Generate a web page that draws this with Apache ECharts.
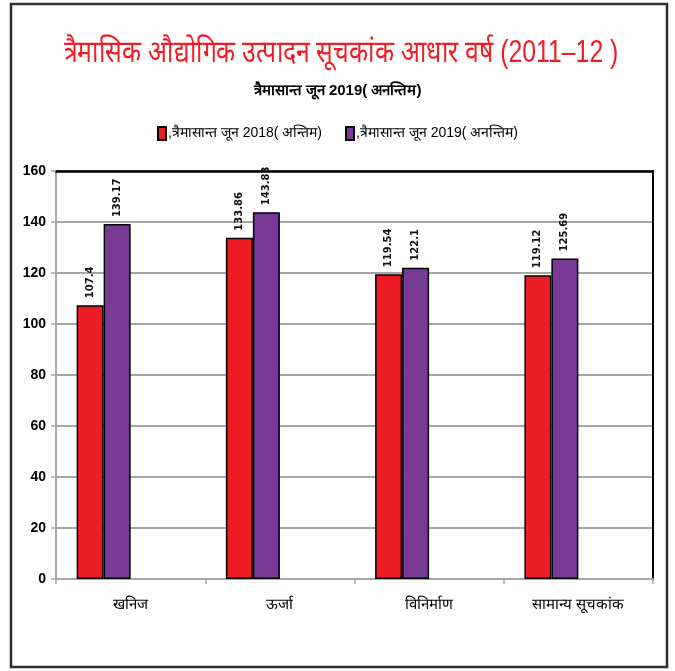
<!DOCTYPE html>
<html><head><meta charset="utf-8">
<script src="https://cdn.jsdelivr.net/npm/echarts@6/dist/echarts.min.js"></script>
<style>html,body{margin:0;padding:0;background:#fff}#c{width:675px;height:671px}</style>
</head><body><div id="c"></div>
<script>
const titleText = 'त्रैमासिक औद्योगिक उत्पादन सूचकांक आधार वर्ष (2011–12 )';
const subtitleText = 'त्रैमासान्त जून 2019( अनन्तिम)';
const categories = ['खनिज', 'ऊर्जा', 'विनिर्माण', 'सामान्य सूचकांक'];
const seriesNames = [',त्रैमासान्त जून 2018( अन्तिम)', ',त्रैमासान्त जून 2019( अनन्तिम)'];
const values2018 = [107.4, 133.86, 119.54, 119.12];
const values2019 = [139.17, 143.83, 122.1, 125.69];
const yTicks = [0, 20, 40, 60, 80, 100, 120, 140, 160];

const narrow = "'Liberation Sans Narrow', 'Arial Narrow', 'Liberation Sans', sans-serif";
const chart = echarts.init(document.getElementById('c'));
const labelCfg = {
  show: true, position: 'top', rotate: 90, align: 'left', verticalAlign: 'middle',
  distance: 7, fontSize: 10, fontWeight: 'bold', color: '#111',
  fontFamily: "'DejaVu Sans', Verdana, sans-serif"
};
chart.setOption({
  animation: false,
  title: [
    { text: subtitleText, left: 'center', top: 78,
      textStyle: { color: '#000', fontSize: 15, fontWeight: 'bold', fontFamily: narrow } }
  ],
  legend: {
    top: 121, left: 'center', itemGap: 23,
    data: seriesNames, icon: 'rect', itemWidth: 8, itemHeight: 13,
    textStyle: { color: '#000', fontSize: 14, fontFamily: narrow, padding: [0,0,0,-3] }
  },
  graphic: [{
    type: 'text', x: 341, y: 53, scaleX: 0.8, scaleY: 1,
    style: { text: titleText, x: 0, y: 0, align: 'center', verticalAlign: 'middle',
      fill: '#EE1C25', fontSize: 31, fontFamily: "'Liberation Sans', sans-serif" }
  }, {
    type: 'rect', shape: { x: 11, y: 4, width: 656, height: 663 },
    style: { fill: 'none', stroke: '#2f2f2f', lineWidth: 2.5 }, z: 100
  }],
  grid: { left: 56, right: 22, top: 171, bottom: 92 },
  xAxis: [{
    type: 'category', data: categories,
    axisLine: { lineStyle: { color: '#A6A6A6', width: 2 } },
    axisTick: { show: true, length: 5, lineStyle: { color: '#A6A6A6', width: 1.5 } },
    axisLabel: { color: '#000', fontSize: 15, margin: 18, fontFamily: narrow }
  }, {
    type: 'category', data: categories, position: 'top',
    axisLine: { onZero: false, lineStyle: { color: '#000', width: 2.5 } },
    axisTick: { show: false }, axisLabel: { show: false }
  }],
  yAxis: [{
    type: 'value', min: 0, max: 160, interval: 20,
    axisLine: { show: true, lineStyle: { color: '#A6A6A6', width: 2 } },
    axisTick: { show: true, length: 5, lineStyle: { color: '#A6A6A6', width: 1.5 } },
    splitLine: { lineStyle: { color: '#A6A6A6', width: 2 } },
    axisLabel: { color: '#000', fontSize: 14, fontWeight: 'bold', margin: 10, fontFamily: narrow,
      formatter: v => yTicks.includes(v) ? String(v) : '' }
  }, {
    type: 'value', min: 0, max: 160, interval: 20, position: 'right',
    axisLine: { show: true, onZero: false, lineStyle: { color: '#000', width: 2 } },
    axisTick: { show: false }, axisLabel: { show: false }, splitLine: { show: false }
  }],
  series: [
    { name: seriesNames[0], type: 'bar', data: values2018, barWidth: 27, barGap: '0%',
      itemStyle: { color: '#EE1C25', borderColor: '#000', borderWidth: 1.5 }, label: labelCfg },
    { name: seriesNames[1], type: 'bar', data: values2019, barWidth: 27, barGap: '0%',
      itemStyle: { color: '#773B96', borderColor: '#000', borderWidth: 1.5 }, label: labelCfg },
    { name: 'blank1', type: 'bar', data: [null, null, null, null], barWidth: 27, barGap: '0%' },
    { name: 'blank2', type: 'bar', data: [null, null, null, null], barWidth: 27, barGap: '0%' }
  ]
});
</script></body></html>
